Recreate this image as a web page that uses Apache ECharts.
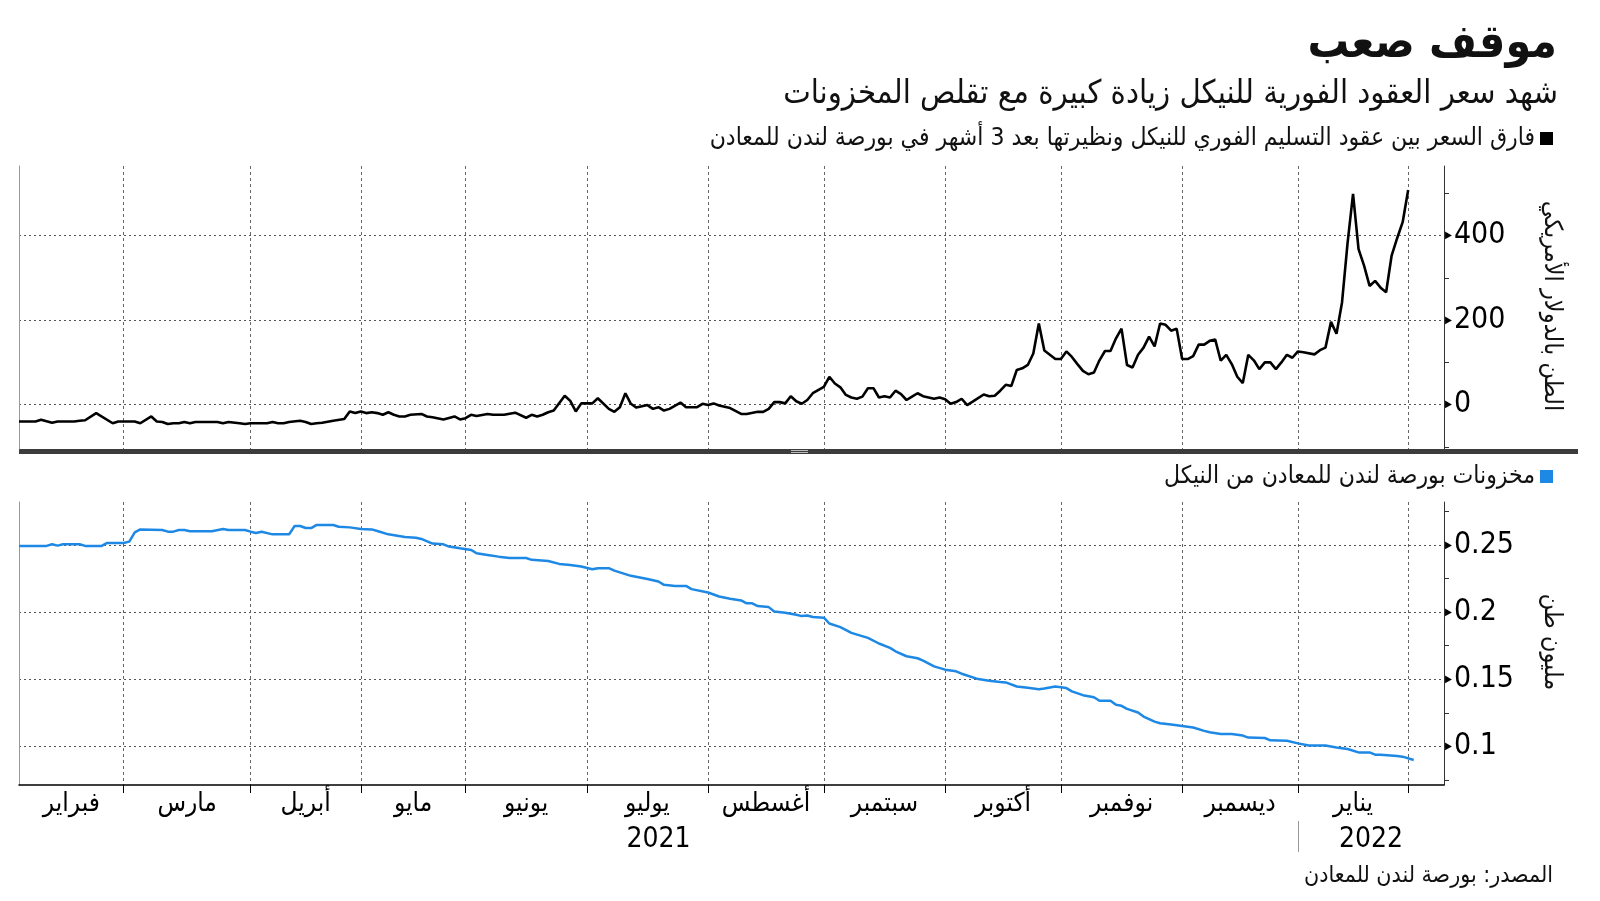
<!DOCTYPE html>
<html><head><meta charset="utf-8">
<script src="https://cdn.jsdelivr.net/npm/echarts@6/dist/echarts.min.js"></script>
<style>html,body{margin:0;padding:0;background:#fff}#c{width:1600px;height:901px}</style>
</head><body><div id="c"></div><script>
// ---- data (x = LME trading-day index from early Feb 2021) ----
const monthNames = ['فبراير','مارس','أبريل','مايو','يونيو','يوليو','أغسطس','سبتمبر','أكتوبر','نوفمبر','ديسمبر','يناير'];
const monthTradingDays = [19,23,20,19,22,22,21,22,21,22,21,20];
const yearLabels = ['2021','2022'];
const spreadName = 'فارق السعر بين عقود التسليم الفوري للنيكل ونظيرتها بعد 3 أشهر في بورصة لندن للمعادن';
const stockName = 'مخزونات بورصة لندن للمعادن من النيكل';
const spreadTickLabels = [0,200,400];
const stockTickLabels = [0.1,0.15,0.2,0.25];

// cash-to-3-month spread, USD/t
const spread = [
[0,-40],[3,-40],[4,-36],[6,-43],[7,-40],[10,-40],[11,-38],[12,-37],[14,-20],[17,-44],[18,-40],[21,-40],[22,-44],[24,-28],[25,-40],[26,-41],[27,-46],[28,-44],[29,-44],[30,-41],[31,-44],[32,-41],[36,-41],[37,-44],[38,-41],[40,-44],[41,-46],[42,-44],[45,-44],[46,-41],[47,-44],[48,-44],[49,-41],[51,-38],[52,-41],[53,-46],[54,-44],[55,-43],[57,-38],[59,-34],[60,-16],[61,-20],[62,-16],[63,-20],
[64,-18],[65,-20],[66,-24],[67,-18],[68,-24],[69,-28],[70,-28],[71,-24],[73,-22],[74,-28],[75,-30],[77,-35],[79,-28],[80,-35],[81,-32],[82,-24],[83,-27],[85,-22],[86,-24],[88,-24],[90,-19],[92,-31],[93,-24],[94,-28],[95,-24],[96,-18],[97,-14],[99,21],[100,9],[101,-16],[102,3],[104,3],[105,15],[107,-10],[108,-17],[109,-6],[110,27],[111,2],[112,-7],[114,-1],[115,-10],[116,-6],[117,-14],[118,-10],[120,5],[121,-6],[123,-6],[124,2],[125,-1],[126,3],[127,-2],[129,-8],
[131,-22],[132,-22],[134,-17],[135,-17],[136,-10],[137,6],[138,6],[139,3],[140,20],[141,8],[142,2],[143,11],[144,27],[146,42],[147,66],[148,50],[149,41],[150,23],[151,17],[152,14],[153,19],[154,39],[155,39],[156,17],[157,20],[158,17],[159,33],[160,25],[161,11],[162,19],[163,27],[164,20],[166,14],[167,17],[168,13],[169,2],[170,6],[171,14],[172,-1],[173,7],[175,24],[176,20],[177,21],[178,33],[179,47],[180,44],[181,82],[182,86],[183,94],[184,121],[185,192],[186,128],[187,118],[188,108],[189,108],[190,126],[191,113],[192,96],[193,80],[194,72],
[195,76],[196,105],[197,127],[198,127],[199,157],[200,180],[201,94],[202,88],[203,118],[204,135],[205,161],[206,138],[207,192],[208,189],[209,175],[210,180],[211,108],[212,108],[213,115],[214,142],[215,142],[216,151],[217,154],[218,104],[219,118],[220,96],[221,66],[222,51],[223,118],[224,105],[225,84],[226,100],[227,100],[228,84],[229,100],[230,118],[231,111],[232,126],[233,124],[235,119],[236,129],[237,135],[238,196],[239,168],[240,242],[241,382],[242,499],[243,368],[244,329],[245,281],[246,293],[247,277],[248,266],[249,353],[250,394],[251,432],[252,508]
];

// LME nickel stocks, million tonnes
const stocks = [
[0,0.2493],[5,0.2493],[6,0.2505],[7,0.2495],[8,0.2505],[11,0.2505],[12,0.2493],[15,0.2493],[16,0.2515],[19,0.2515],[20,0.2525],[21,0.2594],[22,0.2616],[26,0.2611],[27,0.2599],[28,0.2599],[29,0.2611],[30,0.2611],[31,0.2602],[35,0.2602],[37,0.2619],[38,0.2611],[41,0.2611],[42,0.2599],[43,0.2589],[44,0.2599],[46,0.2579],[49,0.2579],[50,0.2641],[51,0.2641],[52,0.2626],[53,0.2626],[54,0.2649],[57,0.2649],[58,0.2636],[60,0.2631],[62,0.2619],[64,0.2616],[65,0.2604],[67,0.2579],[70,0.2559],[72,0.2554],[73,0.2545],[75,0.2510],[77,0.2505],[78,0.2488],[80,0.2475],[82,0.2463],[83,0.2438],[85,0.2426],[87,0.2413],[89,0.2403],[92,0.2403],[93,0.2389],[96,0.2381],[98,0.2359],[100,0.2351],[102,0.2339],[104,0.2319],[105,0.2327],[107,0.2327],[108,0.2309],[111,0.2270],[114,0.2247],[116,0.2228],[117,0.2203],[119,0.2195],[121,0.2195],[122,0.2171],[125,0.2146],[127,0.2116],
[129,0.2100],[131,0.2087],[132,0.2065],[133,0.2065],[134,0.2045],[136,0.2037],[137,0.2005],[139,0.1995],[141,0.1980],[142,0.1970],[143,0.1975],[144,0.1963],[146,0.1958],[147,0.1915],[149,0.1888],[151,0.1845],[154,0.1808],[156,0.1766],[158,0.1733],[159,0.1708],[161,0.1671],[163,0.1656],[164,0.1638],[166,0.1596],[168,0.1571],[170,0.1559],[171,0.1541],[174,0.1501],[176,0.1489],[178,0.1479],[179,0.1476],[181,0.1446],[183,0.1436],[185,0.1426],[186,0.1431],[188,0.1446],[190,0.1434],[191,0.1409],[193,0.1381],[195,0.1366],[196,0.1339],[198,0.1339],[199,0.1309],[200,0.1302],[201,0.1279],[203,0.1252],[204,0.1222],[206,0.1184],[207,0.1172],[209,0.1162],[211,0.1152],[213,0.1140],[215,0.1115],[216,0.1105],[218,0.1092],[220,0.1092],[222,0.1080],[223,0.1065],[226,0.1062],[227,0.1045],[230,0.1042],[232,0.1022],[234,0.1007],[237,0.1007],[239,0.0992],[241,0.0980],[243,0.0955],[245,0.0955],[246,0.0938],[247,0.0938],[250,0.0928],[251,0.0923],[253,0.0898]
];

// ---- derived axis helpers ----
const X_MAX = 258.5;
const boundaries = [];
monthTradingDays.reduce((acc, d) => { acc += d; boundaries.push(acc); return acc; }, 0);
const starts = [0].concat(boundaries.slice(0, -1));
const mids = starts.map((s, i) => (s + boundaries[i]) / 2);
const yearSplit = boundaries[10];
const yearPos = [yearSplit / 2, (yearSplit + X_MAX) / 2];
const spreadMinorTicks = [-100,0,100,200,300,400,500];
const stockMinorTicks = [0.075,0.1,0.125,0.15,0.175,0.2,0.225,0.25,0.275];

const AR = "'DejaVu Sans Condensed','DejaVu Sans',sans-serif";
const NUM = "'Liberation Sans Narrow','DejaVu Sans Condensed',sans-serif";

const dotted = {color:'#555', width:1, type:[2,3]};
const dashed = {color:'#666', width:1, type:[3,3]};

function numLabel(v){ return '{t|▶}{n|' + v + '}'; }
const labelRich = {t:{fontSize:10, color:'#000', padding:[0,2,0,0]}, n:{fontSize:30, color:'#000', fontFamily:NUM}};

function yAxes(gridIndex, min, max, minor, major){
  return [
    {gridIndex, type:'value', position:'right', min, max,
      axisLine:{show:true, onZero:false, lineStyle:{color:'#333', width:1}},
      axisTick:{show:true, length:5, customValues:minor, lineStyle:{color:'#333'}},
      axisLabel:{show:true, customValues:major, margin:1, formatter:numLabel, rich:labelRich},
      splitLine:{show:false}},
    {gridIndex, type:'value', position:'left', min, max,
      axisLine:{show:true, onZero:false, lineStyle:{color:'#999', width:1}},
      axisTick:{show:false, customValues:major},
      axisLabel:{show:false}, splitLine:{show:true, lineStyle:dotted}}
  ];
}

const chart = echarts.init(document.getElementById('c'), null, {renderer:'canvas'});
chart.setOption({
  animation:false,
  backgroundColor:'#fff',
  textStyle:{fontFamily:AR},
  grid:[
    {left:19, right:156, top:166, height:283},
    {left:19, right:156, top:502, height:283}
  ],
  legend:[
    {data:[spreadName], right:42, top:121, align:'right', icon:'rect', itemWidth:13, itemHeight:13, itemGap:0,
      textStyle:{fontSize:24.5, color:'#111', fontFamily:AR}, selectedMode:false},
    {data:[stockName], right:42, top:459, align:'right', icon:'rect', itemWidth:13, itemHeight:13, itemGap:0,
      textStyle:{fontSize:24.5, color:'#111', fontFamily:AR}, selectedMode:false}
  ],
  xAxis:[
    {gridIndex:0, type:'value', min:0, max:X_MAX,
      axisLine:{show:false}, axisTick:{show:false, customValues:boundaries},
      axisLabel:{show:false}, splitLine:{show:true, lineStyle:dashed}},
    {gridIndex:1, type:'value', min:0, max:X_MAX,
      axisLine:{show:true, onZero:false, lineStyle:{color:'#000', width:1.5}},
      axisTick:{show:true, length:8, customValues:boundaries, lineStyle:{color:'#000'}},
      axisLabel:{show:true, customValues:mids, margin:6, fontSize:26, color:'#000', fontFamily:AR,
        formatter:v => monthNames[mids.indexOf(v)]},
      splitLine:{show:true, lineStyle:dashed}},
    {gridIndex:1, type:'value', min:0, max:X_MAX, position:'bottom', offset:36,
      axisLine:{show:false},
      axisTick:{show:true, length:31, customValues:[yearSplit], lineStyle:{color:'#999'}},
      axisLabel:{show:true, customValues:yearPos, margin:5, fontSize:28, color:'#000', fontFamily:NUM,
        formatter:v => yearLabels[yearPos.indexOf(v)]},
      splitLine:{show:false}}
  ],
  yAxis:[].concat(
    yAxes(0, -105, 565, spreadMinorTicks, spreadTickLabels),
    yAxes(1, 0.0712, 0.282, stockMinorTicks, stockTickLabels)
  ),
  series:[
    {name:spreadName, type:'line', xAxisIndex:0, yAxisIndex:0, data:spread, showSymbol:false, symbol:'none',
      lineStyle:{color:'#000', width:2.6}, itemStyle:{color:'#000'}},
    {name:stockName, type:'line', xAxisIndex:1, yAxisIndex:2, data:stocks, showSymbol:false, symbol:'none',
      lineStyle:{color:'#1e88e5', width:2.5}, itemStyle:{color:'#1e88e5'}}
  ],
  graphic:[
    {type:'text', right:43, top:22, style:{text:'موقف صعب', font:"bold 46px 'DejaVu Sans Condensed','DejaVu Sans'", fill:'#111'}},
    {type:'text', right:42, top:78, style:{text:'شهد سعر العقود الفورية للنيكل زيادة كبيرة مع تقلص المخزونات', font:"32.5px 'DejaVu Sans Condensed','DejaVu Sans'", fill:'#111'}},
    {type:'text', right:47, top:865, style:{text:'المصدر: بورصة لندن للمعادن', font:"23px 'DejaVu Sans Condensed','DejaVu Sans'", fill:'#111'}},
    {type:'text', x:1551, y:306, rotation:-Math.PI/2, style:{text:'الطن بالدولار الأمريكي', align:'center', verticalAlign:'middle', font:"25px 'DejaVu Sans Condensed','DejaVu Sans'", fill:'#111'}},
    {type:'text', x:1551, y:642, rotation:-Math.PI/2, style:{text:'مليون طن', align:'center', verticalAlign:'middle', font:"25px 'DejaVu Sans Condensed','DejaVu Sans'", fill:'#111'}},
    {type:'rect', shape:{x:19, y:449, width:1559, height:5}, style:{fill:'#3c3c3c'}},
    {type:'rect', shape:{x:791, y:450, width:17, height:1}, style:{fill:'#bbb'}},
    {type:'rect', shape:{x:791, y:452, width:17, height:1}, style:{fill:'#bbb'}}
  ]
});
</script></body></html>
